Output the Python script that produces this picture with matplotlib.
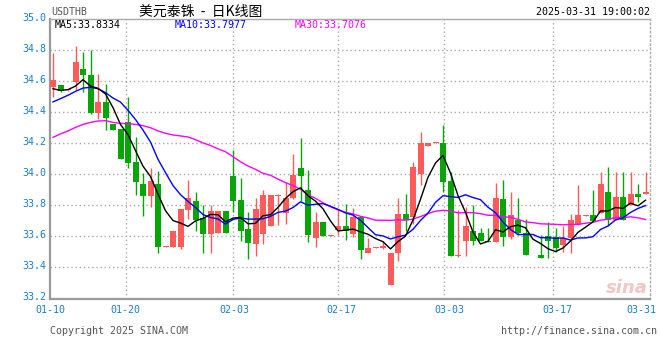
import matplotlib
matplotlib.use("Agg")
import matplotlib.pyplot as plt
import matplotlib.transforms as mtransforms
import numpy as np
import pandas as pd

# ---------------------------- data ----------------------------
# USD/THB daily candles, 2025-01-10 .. 2025-03-31
opens = [34.562, 34.572, 34.540, 34.594, 34.681, 34.640, 34.396, 34.464, 34.323, 34.290,
         34.334, 34.080, 33.940, 33.857, 33.940, 33.532, 33.530, 33.530, 33.770, 33.826,
         33.717, 33.613, 33.620, 33.764, 33.990, 33.836, 33.645, 33.550, 33.617, 33.670,
         33.862, 33.750, 33.847, 34.038, 33.898, 33.587, 33.694, 33.602, 33.638, 33.668,
         33.613, 33.723, 33.496, 33.526, 33.525, 33.287, 33.496, 33.745, 33.723, 34.004,
         34.183, 34.200, 34.200, 33.955, 33.474, 33.568, 33.636, 33.620, 33.572, 33.562,
         33.843, 33.598, 33.704, 33.619, 33.477, 33.480, 33.600, 33.596, 33.545, 33.589,
         33.674, 33.732, 33.736, 33.751, 33.889, 33.704, 33.853, 33.802, 33.870, 33.874]
highs = [34.781, 34.575, 34.542, 34.828, 34.785, 34.802, 34.645, 34.580, 34.323, 34.290,
         34.496, 34.240, 34.010, 34.040, 34.020, 33.536, 33.634, 33.775, 33.966, 33.883,
         33.800, 33.800, 33.764, 33.764, 34.155, 33.974, 33.755, 33.850, 33.898, 33.866,
         33.870, 33.950, 34.128, 34.236, 34.026, 33.760, 33.694, 33.606, 33.777, 33.810,
         33.783, 33.734, 33.590, 33.530, 33.570, 33.496, 33.847, 33.872, 34.080, 34.274,
         34.204, 34.210, 34.319, 34.017, 33.770, 33.790, 33.800, 33.655, 33.655, 33.943,
         33.966, 33.885, 33.849, 33.710, 33.481, 33.610, 33.690, 33.651, 33.668, 33.743,
         33.934, 33.736, 33.896, 34.015, 34.050, 34.015, 34.015, 34.015, 33.938, 34.015]
lows = [34.498, 34.533, 34.538, 34.540, 34.530, 34.390, 34.355, 34.285, 34.287, 34.096,
        34.040, 33.866, 33.732, 33.790, 33.490, 33.530, 33.530, 33.520, 33.710, 33.632,
        33.490, 33.490, 33.620, 33.620, 33.760, 33.570, 33.453, 33.475, 33.550, 33.670,
        33.675, 33.680, 33.840, 33.830, 33.564, 33.530, 33.600, 33.600, 33.606, 33.574,
        33.596, 33.457, 33.496, 33.526, 33.520, 33.287, 33.440, 33.632, 33.680, 33.930,
        34.183, 34.200, 33.883, 33.474, 33.470, 33.474, 33.543, 33.568, 33.562, 33.562,
        33.540, 33.583, 33.610, 33.477, 33.477, 33.460, 33.460, 33.498, 33.498, 33.494,
        33.674, 33.732, 33.700, 33.751, 33.664, 33.704, 33.704, 33.802, 33.821, 33.874]
closes = [34.604, 34.536, 34.541, 34.726, 34.640, 34.396, 34.464, 34.360, 34.287, 34.096,
          34.070, 33.950, 33.857, 33.955, 33.530, 33.534, 33.634, 33.775, 33.850, 33.706,
          33.613, 33.764, 33.764, 33.620, 33.830, 33.632, 33.560, 33.777, 33.866, 33.866,
          33.866, 33.847, 33.994, 33.990, 33.610, 33.694, 33.600, 33.604, 33.668, 33.636,
          33.728, 33.510, 33.528, 33.528, 33.535, 33.496, 33.745, 33.706, 34.045, 34.204,
          34.204, 34.205, 33.951, 33.474, 33.477, 33.668, 33.568, 33.568, 33.562, 33.847,
          33.598, 33.736, 33.619, 33.477, 33.479, 33.460, 33.568, 33.528, 33.591, 33.704,
          33.740, 33.734, 33.700, 33.940, 33.704, 33.853, 33.704, 33.870, 33.853, 33.885]

# moving averages at the left edge need days before the window ->
ma5_head = [34.551, 34.540, 34.545, 34.568]
ma10_head = [34.466, 34.487, 34.509, 34.534, 34.555, 34.560, 34.551, 34.526, 34.491]
ma30_head = [34.238, 34.260, 34.279, 34.302, 34.321, 34.334, 34.343, 34.345, 34.334, 34.328,
             34.326, 34.321, 34.313, 34.300, 34.279, 34.264, 34.253, 34.247, 34.240, 34.223,
             34.202, 34.185, 34.164, 34.145, 34.113, 34.081, 34.053, 34.032, 34.006]

y_ticks = [35.0, 34.8, 34.6, 34.4, 34.2, 34.0, 33.8, 33.6, 33.4, 33.2]
date_labels = ["01-10", "01-20", "02-03", "02-17", "03-03", "03-17", "03-31"]
date_pos = [-0.4, 9.7, 24.2, 38.5, 52.8, 67.2, 78.5]
vgrid_pos = [9.67, 23.96, 37.96, 52.17, 66.67]

ma_text = ["MA5:33.8334", "MA10:33.7977", "MA30:33.7076"]

# ---------------------------- style ----------------------------
W, H = 660, 360
MONO = "DejaVu Sans Mono"
FS = 7.2
UP, DOWN = "#ff5a5a", "#06a606"
TICK_BLUE = "#1a7ec8"
GRID = "#aaaaaa"


def px(x, y):
    """pixel position (from top-left) -> figure fraction"""
    return x / W, 1 - y / H


def rolling_with_head(series, n, head):
    ma = series.rolling(n).mean()
    ma.iloc[:len(head)] = head
    return ma


fig = plt.figure(figsize=(W / 100, H / 100), dpi=100)
ax = fig.add_axes([50 / W, 1 - 298.5 / H, 600 / W, (298.5 - 19) / H])

idx = np.arange(len(closes))
o = np.array(opens)
c = np.array(closes)
hi = np.array(highs)
lo = np.array(lows)
colors = np.where(c >= o, UP, DOWN)

# wicks then bodies
ax.vlines(idx, lo, hi, colors=colors, lw=1.0, zorder=2)
body = np.maximum(np.abs(c - o), 0.006)
ax.bar(idx, body, bottom=np.minimum(o, c), width=0.8, color=colors,
       edgecolor="none", zorder=3)

# moving averages
s = pd.Series(closes)
ma5 = rolling_with_head(s, 5, ma5_head)
ma10 = rolling_with_head(s, 10, ma10_head)
ma30 = rolling_with_head(s, 30, ma30_head)
ax.plot(idx, ma30, color="#ff00ff", lw=1.0, zorder=4)
ax.plot(idx, ma10, color="#0000ff", lw=1.0, zorder=5)
ax.plot(idx, ma5, color="#000000", lw=1.0, zorder=6)

ax.set_xlim(-0.4, 79.6)
ax.set_ylim(33.2, 35.0)

# grid
for y in y_ticks[1:-1]:
    ax.axhline(y, color=GRID, lw=1.0, ls=(0, (1, 2)), zorder=1)
for x in vgrid_pos:
    ax.axvline(x, color=GRID, lw=1.0, ls=(0, (1, 2)), zorder=1)

for side in ("left", "bottom"):
    ax.spines[side].set_color("#9a9a9a")
    ax.spines[side].set_linewidth(1.6)
ax.spines["top"].set_color("#aaaaaa")
ax.spines["top"].set_linewidth(1.0)
ax.spines["right"].set_color(GRID)
ax.spines["right"].set_linewidth(1.0)
ax.spines["right"].set_linestyle((0, (1, 2)))

ax.set_yticks(y_ticks)
ax.set_yticklabels([f"{v:.1f}" for v in y_ticks], family=MONO, fontsize=FS, color=TICK_BLUE)
ax.set_xticks(date_pos)
ax.set_xticklabels(date_labels, family=MONO, fontsize=FS, color=TICK_BLUE)
ax.tick_params(axis="y", length=0, pad=3)
ax.tick_params(axis="x", length=0, pad=4.5)

# price labels sit a touch above their grid line
lift = mtransforms.ScaledTranslation(0, 2 / 100, fig.dpi_scale_trans)
for lab in ax.get_yticklabels():
    lab.set_transform(lab.get_transform() + lift)

# header
fig.text(*px(51, 12), "USDTHB", family=MONO, fontsize=FS, color="#555555", va="center")
fig.text(*px(201, 12), "美元泰铢  -  日K线图", family=["Noto Sans CJK SC", "DejaVu Sans"],
         fontsize=10, color="#000000", ha="center", va="center")
fig.text(*px(650, 12), "2025-03-31 19:00:02", family=MONO, fontsize=FS,
         color="#000000", ha="right", va="center")
for x, t, col in zip([55, 175, 295], ma_text, ["#000000", "#0000ff", "#ff00ff"]):
    fig.text(*px(x, 24.5), t, family=MONO, fontsize=FS, color=col, va="center")

# footer
fig.text(*px(50, 330.5), "Copyright 2025 SINA.COM", family=MONO, fontsize=FS,
         color="#555555", va="center")
fig.text(*px(657, 330.5), "http://finance.sina.com.cn", family=MONO, fontsize=FS,
         color="#555555", ha="right", va="center")

# watermark
fig.text(*px(648, 288), "sina", fontsize=13, fontweight="bold", style="italic",
         color="#f0b8b8", alpha=0.8, ha="right", va="center")

fig.savefig("out.png", dpi=100)
